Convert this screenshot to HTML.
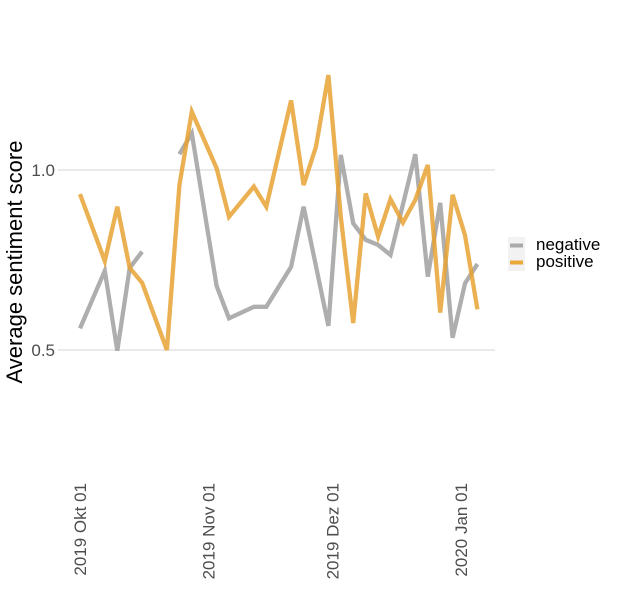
<!DOCTYPE html>
<html><head><meta charset="utf-8"><style>
body{margin:0;background:#fff;font-family:"Liberation Sans",sans-serif;}
</style></head><body>
<svg width="620" height="601" viewBox="0 0 620 601" xmlns="http://www.w3.org/2000/svg">
<g id="grid"></g>
<g id="yticks"></g>
<g id="xticks"></g>
<g id="series"></g>
<text transform="translate(22,262) rotate(-90)" text-anchor="middle" font-size="22" fill="#000">Average sentiment score</text>
<g>
<rect x="508" y="237" width="17" height="17" fill="#f2f2f2"/>
<line x1="510" y1="245.5" x2="523" y2="245.5" stroke="#aaaaaa" stroke-width="4"/>
<rect x="508" y="254" width="17" height="17" fill="#f2f2f2"/>
<line x1="510" y1="262.5" x2="523" y2="262.5" stroke="#e8a83a" stroke-width="4"/>
<text x="536" y="250" font-size="17" fill="#000">negative</text>
<text x="536" y="267" font-size="17" fill="#000">positive</text>
</g>
</svg>
<script>
const posDays = [0,6,9,12,15,21,24,27,33,36,42,45,51,54,57,60,63,66,69,72,75,78,81,84,87,90,93,96];
const posValues = [0.933,0.747,0.898,0.728,0.687,0.5,0.958,1.162,1.005,0.870,0.954,0.898,1.193,0.958,1.065,1.264,0.870,0.575,0.935,0.815,0.919,0.854,0.917,1.014,0.604,0.931,0.819,0.613];
const negDays = [0,6,9,12,15,18,24,27,33,36,42,45,51,54,60,63,66,69,72,75,81,84,87,90,93,96];
const negValues = [0.560,0.720,0.498,0.728,0.773,null,1.044,1.102,0.678,0.588,0.620,0.620,0.731,0.898,0.567,1.042,0.852,0.806,0.792,0.764,1.044,0.704,0.909,0.534,0.685,0.739];
const yTicks = [0.5, 1.0];
const yTickLabels = ["0.5","1.0"];
const xTickDays = [0, 31, 61, 92];
const xTickLabels = ["2019 Okt 01","2019 Nov 01","2019 Dez 01","2020 Jan 01"];

const NS = "http://www.w3.org/2000/svg";
const xs = d => 80 + d * 4.14;
const ys = v => 170 + (1.0 - v) * 360;

const grid = document.getElementById('grid');
const yt = document.getElementById('yticks');
yTicks.forEach((v,i) => {
  const l = document.createElementNS(NS,'line');
  
  
  l.setAttribute('x1', 58); l.setAttribute('x2', 495);
  l.setAttribute('y1', ys(v)); l.setAttribute('y2', ys(v));
  l.setAttribute('stroke', '#d4d4d4'); l.setAttribute('stroke-width', '1');
  grid.appendChild(l);
  const t = document.createElementNS(NS,'text');
  
  
  t.setAttribute('x', 55); t.setAttribute('y', ys(v) + 6);
  t.setAttribute('text-anchor', 'end'); t.setAttribute('font-size', '17'); t.setAttribute('fill', '#4d4d4d');
  t.textContent = yTickLabels[i];
  yt.appendChild(t);
});
const xt = document.getElementById('xticks');
xTickDays.forEach((d,i) => {
  const x = xs(d);
  const t = document.createElementNS(NS,'text');
  
  
  t.setAttribute('transform', `translate(${x+6},483) rotate(-90)`);
  t.setAttribute('text-anchor', 'end'); t.setAttribute('font-size', '17'); t.setAttribute('fill', '#4d4d4d');
  t.textContent = xTickLabels[i];
  xt.appendChild(t);
});
function drawSeries(days, vals, color, name) {
  const g = document.getElementById('series');
  let segs = [], cur = [];
  days.forEach((d,i) => {
    if (vals[i] === null) { if (cur.length) segs.push(cur); cur = []; }
    else cur.push(xs(d).toFixed(1) + ',' + ys(vals[i]).toFixed(1));
  });
  if (cur.length) segs.push(cur);
  segs.forEach(s => {
    const p = document.createElementNS(NS,'polyline');
    
    
    p.setAttribute('points', s.join(' '));
    p.setAttribute('fill', 'none'); p.setAttribute('stroke', color);
    p.setAttribute('stroke-width', '4.3'); p.setAttribute('stroke-opacity', '0.85');
    p.setAttribute('stroke-linejoin', 'miter');
    g.appendChild(p);
  });
}
drawSeries(negDays, negValues, '#a0a0a0', 'negative-line');
drawSeries(posDays, posValues, '#e6a232', 'positive-line');
</script>
</body></html>
